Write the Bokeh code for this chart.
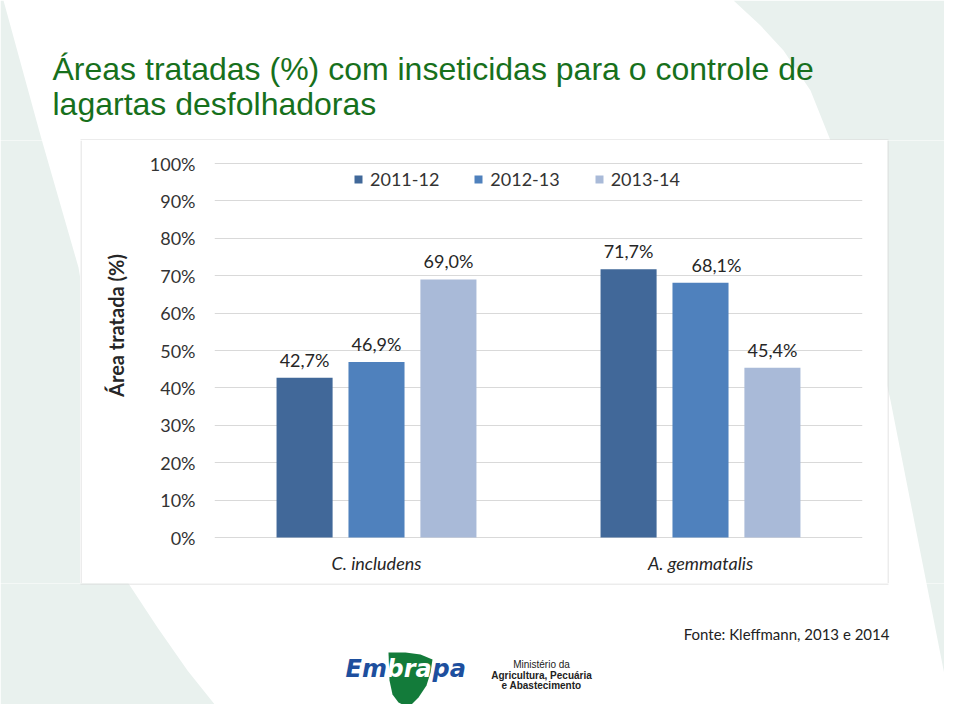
from math import pi
from bokeh.plotting import figure
from bokeh.layouts import column, row
from bokeh.models import (ColumnDataSource, FactorRange, FixedTicker, NumeralTickFormatter,
                          Label, Legend, LegendItem, Range1d, CategoricalAxis)
from bokeh.transform import dodge
from bokeh.core.properties import value
from bokeh.embed import file_html
from bokeh.resources import INLINE

# ---------------- data ----------------
species = ["C. includens", "A. gemmatalis"]
seasons = ["2011-12", "2012-13", "2013-14"]
v_2011_12 = [0.427, 0.717]
v_2012_13 = [0.469, 0.681]
v_2013_14 = [0.690, 0.454]
y_ticks = [0.0, 0.1, 0.2, 0.3, 0.4, 0.5, 0.6, 0.7, 0.8, 0.9, 1.0]

title_lines = ["Áreas tratadas (%) com inseticidas para o controle de",
               "lagartas desfolhadoras"]
y_title = "Área tratada (%)"
source_note = "Fonte:  Kleffmann, 2013 e 2014"
ministry_lines = ["Ministério da", "Agricultura, Pecuária", "e Abastecimento"]

# ---------------- styles ----------------
bar_colors = ["#416899", "#4f81bd", "#a9bad8"]
offsets = [-0.222, 0.0, 0.222]
bar_width = 0.173
label_nudges_px = [[0, 0], [0, 16], [0, 0]]   # horizontal nudge of value labels
FONT = "Lato"
TXT = "#333333"
BG_SHAPE = "#e9f1ee"
BOX_LINE = "#d9d9d9"
TITLE_GREEN = "#17701c"

W, H = 944, 704
BOX_L, BOX_R, BOX_T, BOX_B = 80, 887, 140, 583   # chart box (page px)
YT_R = 140                                       # right edge of y-title strip
FR_L, FR_R, FR_T, FR_B = 214, 862, 163, 537      # 0%..100% plot area (page px)

left_shape_x = [0, 3, 40, 78, 105, 128, 157, 187, 227, 0]
left_shape_y = [0, 0, 135, 267, 430, 583, 627, 670, 720, 720]
right_shape_x = [733, 760, 783, 810, 830, 890, 953, 960, 960]
right_shape_y = [0, 25, 50, 90, 140, 400, 720, 720, 0]


def fmt(v):
    return ("%.1f%%" % (v * 100)).replace(".", ",")


def deco_fig(x0, x1, y0, y1, shapes=True):
    """Decoration panel whose frame fills its whole canvas, in page px."""
    f = figure(width=x1 - x0, height=y1 - y0,
               x_range=Range1d(x0, x1), y_range=Range1d(y1, y0),
               x_axis_type=None, y_axis_type=None, title=None,
               min_border=0, output_backend="svg", toolbar_location=None,
               background_fill_color="white", border_fill_color="white")
    f.outline_line_color = None
    if shapes:
        for xs, ys in [(left_shape_x, left_shape_y), (right_shape_x, right_shape_y)]:
            f.patch(xs, ys, fill_color=BG_SHAPE, line_color=None)
    return f


# ---------------- top strip (title) ----------------
top = deco_fig(0, W, 0, BOX_T)
top.line([BOX_L, BOX_R + 1], [BOX_T - 0.5, BOX_T - 0.5], line_color=BOX_LINE, line_width=1)
for line, base in zip(title_lines, [68, 103]):
    top.add_layout(Label(x=52, y=base, text=line, text_font="Liberation Sans",
                         text_font_size="32px", text_color=TITLE_GREEN,
                         text_baseline="alphabetic", text_align="left"))

# ---------------- left / right strips ----------------
left = deco_fig(0, BOX_L, BOX_T, BOX_B)
right = deco_fig(BOX_R, W, BOX_T, BOX_B)
right.line([BOX_R + 0.5, BOX_R + 0.5], [BOX_T, BOX_B], line_color=BOX_LINE, line_width=1)

# ---------------- y-title strip (inside chart box) ----------------
ytf = deco_fig(BOX_L, YT_R, BOX_T, BOX_B, shapes=False)
ytf.line([BOX_L + 0.5, BOX_L + 0.5], [BOX_T, BOX_B], line_color=BOX_LINE, line_width=1)
ytf.add_layout(Label(x=115, y=325, text=y_title, angle=pi / 2, text_font=FONT,
                     text_font_size="20px", text_font_style="bold", text_color="#262626",
                     text_align="center", text_baseline="middle"))

# ---------------- chart ----------------
src = ColumnDataSource(dict(
    species=species,
    s1=v_2011_12, s2=v_2012_13, s3=v_2013_14,
    l1=[fmt(v) for v in v_2011_12],
    l2=[fmt(v) for v in v_2012_13],
    l3=[fmt(v) for v in v_2013_14],
    n1=label_nudges_px[0], n2=label_nudges_px[1], n3=label_nudges_px[2],
))

# the frame spans the whole chart-box height; 0 and 1 land on the 0%/100% rows
span = FR_B - FR_T
y_lo = -(BOX_B - FR_B) / span
y_hi = 1 + (FR_T - BOX_T) / span

p = figure(x_range=FactorRange(*species), y_range=Range1d(y_lo, y_hi),
           width=BOX_R - YT_R, height=BOX_B - BOX_T, title=None,
           x_axis_type=None,
           min_border_left=FR_L - YT_R, min_border_right=BOX_R - FR_R,
           min_border_top=0, min_border_bottom=0,
           output_backend="svg", toolbar_location=None,
           background_fill_color="white", border_fill_color="white")
p.outline_line_color = None

xaxis = CategoricalAxis(fixed_location=0)
p.add_layout(xaxis, "below")
xaxis.axis_line_color = None
xaxis.major_tick_line_color = None
xaxis.minor_tick_line_color = None
xaxis.major_tick_out = 0
xaxis.major_label_standoff = 14
xaxis.major_label_text_font = FONT
xaxis.major_label_text_font_size = "18px"
xaxis.major_label_text_font_style = "italic"
xaxis.major_label_text_color = "#262626"

ticker = FixedTicker(ticks=y_ticks)
p.yaxis.ticker = ticker
p.yaxis.formatter = NumeralTickFormatter(format="0%")
p.yaxis.axis_line_color = None
p.yaxis.major_tick_line_color = None
p.yaxis.minor_tick_line_color = None
p.yaxis.major_tick_out = 0
p.yaxis.major_label_standoff = 19
p.yaxis.major_label_text_font = FONT
p.yaxis.major_label_text_font_size = "18px"
p.yaxis.major_label_text_color = TXT

p.ygrid.ticker = ticker
p.ygrid.grid_line_color = BOX_LINE
p.ygrid.grid_line_width = 1

items = []
for col, lab, nud, off, color, name in zip(["s1", "s2", "s3"], ["l1", "l2", "l3"],
                                           ["n1", "n2", "n3"], offsets, bar_colors, seasons):
    r = p.vbar(x=dodge("species", off, range=p.x_range), top=col, bottom=0,
               width=bar_width, source=src, fill_color=color, line_color=None)
    p.text(x=dodge("species", off, range=p.x_range), y=col, text=lab, source=src,
           x_offset=nud, y_offset=-18,
           text_align="center", text_baseline="alphabetic",
           text_font=value(FONT), text_font_size="18px", text_color="#262626")
    items.append(LegendItem(label=name, renderers=[r]))

legend = Legend(items=items, orientation="horizontal", location=(139, 393),
                glyph_width=10, glyph_height=10, label_standoff=7, spacing=34,
                padding=5, margin=0, border_line_color=None,
                background_fill_alpha=0.0,
                label_text_font=FONT, label_text_font_size="18px",
                label_text_color=TXT)
p.add_layout(legend, "center")

# ---------------- bottom strip (source + logo) ----------------
bottom = deco_fig(0, W, BOX_B, H)
bottom.line([BOX_L, BOX_R + 1], [BOX_B + 0.5, BOX_B + 0.5], line_color=BOX_LINE, line_width=1)
bottom.add_layout(Label(x=788, y=633, text=source_note, text_font=FONT,
                        text_font_size="15px", text_color="#222222",
                        text_align="center", text_baseline="middle"))

leaf_x = [388, 405, 420, 432, 430, 426, 418, 408, 398, 392, 389]
leaf_y = [652, 652, 654, 659, 672, 685, 697, 707, 702, 694, 680]
bottom.patch(leaf_x, leaf_y, fill_color="#137b3a", line_color=None)
for part, x0, color in [("Em", 345, "#1d4f9e"), ("bra", 386, "white"), ("pa", 432, "#1d4f9e")]:
    bottom.add_layout(Label(x=x0, y=668, text=part, text_font="DejaVu Sans",
                            text_font_size="24px", text_font_style="bold italic",
                            text_color=color, text_align="left",
                            text_baseline="alphabetic"))
for line, yc, style in zip(ministry_lines, [664, 674.5, 685], ["normal", "bold", "bold"]):
    bottom.add_layout(Label(x=541, y=yc, text=line, text_font="Liberation Sans",
                            text_font_size="10px", text_font_style=style,
                            text_color="#222222", text_align="center",
                            text_baseline="middle"))

page = column(top, row(left, ytf, p, right), bottom)
open("out.html", "w").write(file_html(page, INLINE))
